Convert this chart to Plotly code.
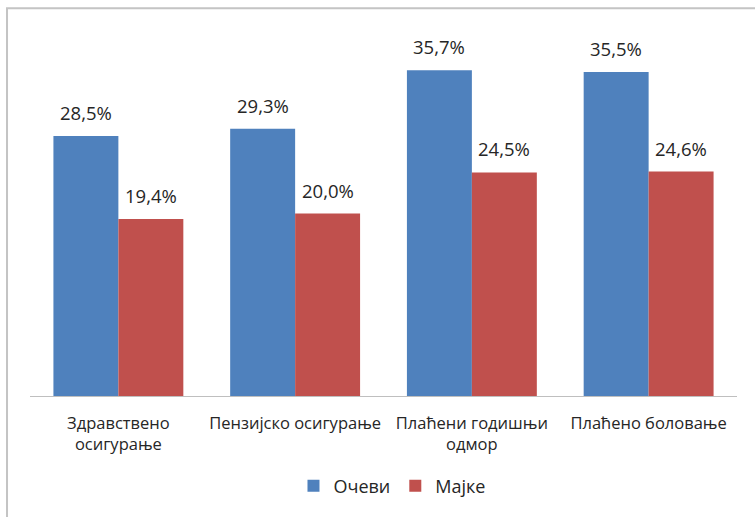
import plotly.graph_objects as go

# categories and values (percent)
categories = ['Здравствено<br>осигурање', 'Пензијско осигурање', 'Плаћени годишњи<br>одмор', 'Плаћено боловање']
fathers = [28.5, 29.3, 35.7, 35.5]
mothers = [19.4, 20.0, 24.5, 24.6]
series_names = ['Очеви', 'Мајке']
colors = ['#4F81BD', '#C0504D']

def fmt(v):
    return f'{v:.1f}%'.replace('.', ',')

fig = go.Figure()
for name, vals, col in zip(series_names, [fathers, mothers], colors):
    fig.add_trace(go.Bar(x=categories, y=vals, name=name, marker=dict(color=col, line=dict(width=0))))

# data labels above bars, shifted to each bar of the group
for vals, shift in zip([fathers, mothers], [-32.5, 32.5]):
    for c, v in zip(categories, vals):
        fig.add_annotation(x=c, y=v, text=fmt(v), showarrow=False, xshift=shift, yshift=9,
                           yanchor='bottom', font=dict(size=18.5, color='#262626'))

# outer chart border
fig.add_shape(type='rect', xref='paper', yref='paper', x0=-0.0325, x1=1.2, y0=-0.6, y1=1.0625,
              line=dict(color='#c4c4c4', width=2), layer='below')

fig.update_layout(
    width=755, height=517,
    margin=dict(l=30, r=18, t=31, b=118),
    paper_bgcolor='white', plot_bgcolor='white',
    barmode='group', bargap=0.265, bargroupgap=0,
    font=dict(family='Open Sans', size=16.5, color='#262626'),
    showlegend=True,
    legend=dict(orientation='h', x=0.512, y=-0.247, xanchor='center', yanchor='middle',
                font=dict(size=18), itemwidth=30, traceorder='normal'),
    xaxis=dict(showline=True, linecolor='#bfbfbf', linewidth=1, ticks='', tickfont=dict(size=16.5),
               ticklabelstandoff=12),
    yaxis=dict(range=[0, 40], visible=False, showgrid=False),
)

# drop the browser's default body margin so the figure sits at the window corner
fig.write_html('out.html', config={'displayModeBar': False},
               post_script="document.body.style.margin='0px';")
